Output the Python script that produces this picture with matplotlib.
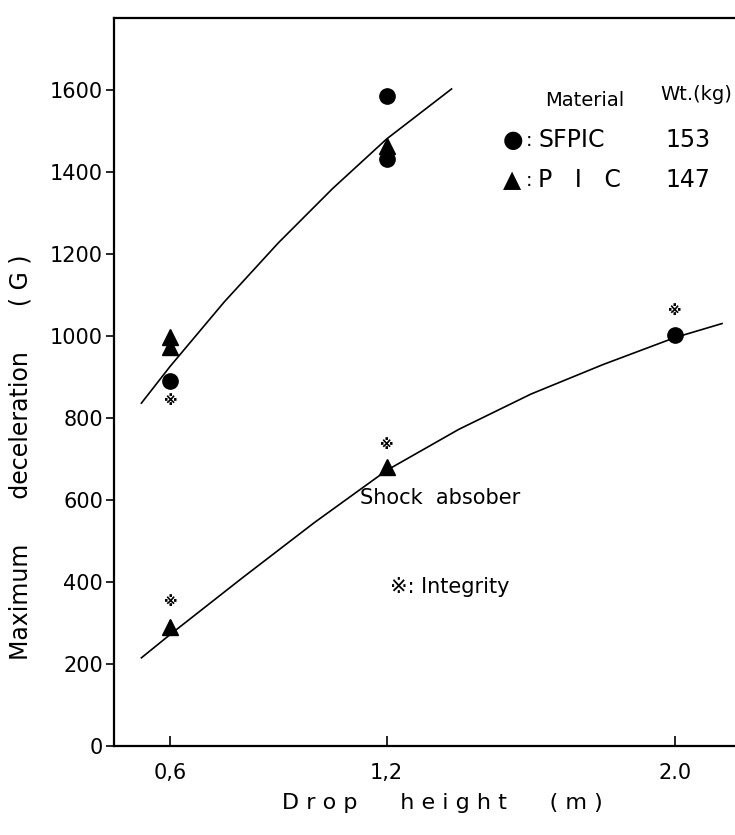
import matplotlib.pyplot as plt

plt.rcParams['font.family'] = ['DejaVu Sans', 'Noto Sans CJK JP']

# Upper group (SFPIC / PIC), measured points
sfpic_x = [0.6, 1.2, 1.2]
sfpic_y = [890, 1585, 1430]
pic_x = [0.6, 0.6, 1.2]
pic_y = [998, 972, 1462]

# Shock absorber group
shock_tri_x = [0.6, 1.2]
shock_tri_y = [290, 680]
shock_circ_x = [2.0]
shock_circ_y = [1002]

# Integrity marks (※)
integ_x = [0.6, 0.6, 1.2, 2.0]
integ_y = [842, 352, 735, 1060]

# Fitted curves
upper_curve_x = [0.52, 0.6, 0.75, 0.9, 1.05, 1.2, 1.38]
upper_curve_y = [836, 926, 1083, 1227, 1359, 1480, 1602]
lower_curve_x = [0.52, 0.6, 0.8, 1.0, 1.2, 1.4, 1.6, 1.8, 2.0, 2.13]
lower_curve_y = [215, 272, 410, 545, 672, 772, 858, 930, 996, 1030]

x_ticks = [0.6, 1.2, 2.0]
x_tick_labels = ['0,6', '1,2', '2.0']
y_ticks = [0, 200, 400, 600, 800, 1000, 1200, 1400, 1600]

fig = plt.figure(figsize=(7.35, 8.35), dpi=100)
ax = fig.add_axes([114 / 735, 1 - 746 / 835, 1 - 114 / 735, (746 - 18) / 835])

ax.plot(upper_curve_x, upper_curve_y, color='black', lw=1.2)
ax.plot(lower_curve_x, lower_curve_y, color='black', lw=1.2)

ax.plot(sfpic_x, sfpic_y, 'o', color='black', ms=11)
ax.plot(pic_x, pic_y, '^', color='black', ms=12)
ax.plot(shock_tri_x, shock_tri_y, '^', color='black', ms=12)
ax.plot(shock_circ_x, shock_circ_y, 'o', color='black', ms=11)

for xi, yi in zip(integ_x, integ_y):
    ax.text(xi, yi, '※', ha='center', va='center', fontsize=10, fontweight='bold')

ax.set_xlim(0.444, 2.166)
ax.set_ylim(0, 1775)
ax.set_xticks(x_ticks)
ax.set_xticklabels(x_tick_labels)
ax.set_yticks(y_ticks)
ax.tick_params(axis='x', direction='in', length=7, width=1.2, labelsize=15, pad=12)
ax.tick_params(axis='y', direction='out', length=6, width=1.2, labelsize=15, pad=2)

for side in ['left', 'bottom', 'top']:
    ax.spines[side].set_linewidth(1.6)
ax.spines['right'].set_visible(False)

ax.set_xlabel('D r o p      h e i g h t      ( m )', fontsize=16)
ax.xaxis.set_label_coords(0.528, -0.064)
ax.set_ylabel('Maximum      deceleration      ( G )', fontsize=17)
ax.yaxis.set_label_coords(-0.132, 0.397)

# Key in the upper right
fig.text(545 / 735, 1 - 100 / 835, 'Material', fontsize=14, va='center')
fig.text(660 / 735, 1 - 95 / 835, 'Wt.(kg)', fontsize=14, va='center')
fig.text(503 / 735, 1 - 140 / 835, '●', fontsize=17, va='center')
fig.text(526 / 735, 1 - 140 / 835, ':', fontsize=14, va='center')
fig.text(538 / 735, 1 - 140 / 835, 'SFPIC', fontsize=17, va='center')
fig.text(665 / 735, 1 - 140 / 835, '153', fontsize=17, va='center')
fig.text(503 / 735, 1 - 180 / 835, '▲', fontsize=17, va='center')
fig.text(526 / 735, 1 - 180 / 835, ':', fontsize=14, va='center')
fig.text(538 / 735, 1 - 180 / 835, 'P   I   C', fontsize=17, va='center')
fig.text(665 / 735, 1 - 180 / 835, '147', fontsize=17, va='center')

fig.text(360 / 735, 1 - 498 / 835, 'Shock  absober', fontsize=15, va='center')
fig.text(390 / 735, 1 - 587 / 835, '※: Integrity', fontsize=15, va='center')

fig.savefig('out.png', dpi=100)
